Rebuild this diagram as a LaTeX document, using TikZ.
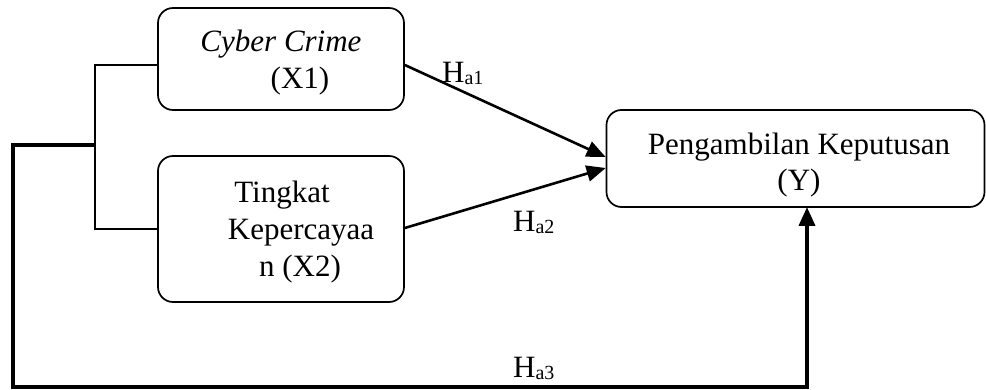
\documentclass[tikz,border=0pt]{standalone}
\usepackage{fontspec}
\setmainfont{Liberation Serif}
\usetikzlibrary{arrows.meta,calc}
\newcommand{\bigtxt}{\fontsize{31}{37}\selectfont}
\newcommand{\Hsub}[1]{H\raisebox{-2pt}{\fontsize{20}{22}\selectfont #1}}
\begin{document}
\begin{tikzpicture}[x=1pt,y=1pt,
  box/.style={draw, line width=1.7pt, rounded corners=15pt, inner sep=0pt},
  txt/.style={anchor=base, inner sep=0pt, font=\bigtxt},
  lbl/.style={anchor=base west, inner sep=0pt, font=\bigtxt},
  arr/.style={line width=2.6pt, -{Triangle[length=19pt,width=16pt]}},
  thin/.style={line width=1.4pt},
  thick/.style={line width=3.8pt}]
\useasboundingbox (0,0) rectangle (986,-390);
% boxes
\node[box, minimum width=246pt, minimum height=102pt] (X1) at (281,-59) {};
\node[box, minimum width=246pt, minimum height=146pt] (X2) at (281,-229) {};
\node[box, minimum width=378pt, minimum height=97pt] (Y) at (795.5,-158.5) {};
% texts
\node[txt] (t1) at (281,-52) {\itshape Cyber Crime};
\node[txt] (t2) at (300,-89) {(X1)};
\node[txt] (t3) at (282,-203) {Tingkat};
\node[txt] (t4) at (301,-240) {Kepercayaa};
\node[txt] (t5) at (300,-277) {n (X2)};
\node[txt] (t6) at (799,-155) {Pengambilan Keputusan};
\node[txt] (t7) at (799,-191) {(Y)};
% labels
\node[lbl] (h1) at (442,-83) {\Hsub{a1}};
\node[lbl] (h2) at (513,-232) {\Hsub{a2}};
\node[lbl] (h3) at (513,-377) {\Hsub{a3}};
% coordinates
\coordinate (b1) at (95,-65);
\coordinate (b2) at (95,-229);
\coordinate (j) at (95,-145);
\coordinate (c1) at (13,-145);
\coordinate (c2) at (13,-387);
\coordinate (c3) at (807,-387);
\coordinate (yin) at (807,-207);
% bracket
\draw[thin] ([yshift=-6pt]X1.west) -- (b1) -- (b2) -- (X2.west);
% thick path
\draw[thick, line join=miter] (j) -- (c1) -- (c2) -- (c3) -- ([yshift=-10pt]yin);
\draw[line width=3.8pt, -{Triangle[length=19pt,width=16pt]}] ([yshift=-14pt]yin) -- (yin);
% arrows
\draw[arr] ([yshift=-6pt]X1.east) -- ([yshift=1.5pt]Y.west);
\draw[arr] ([yshift=1pt]X2.east) -- ([yshift=-9.5pt]Y.west);
\end{tikzpicture}
\end{document}
